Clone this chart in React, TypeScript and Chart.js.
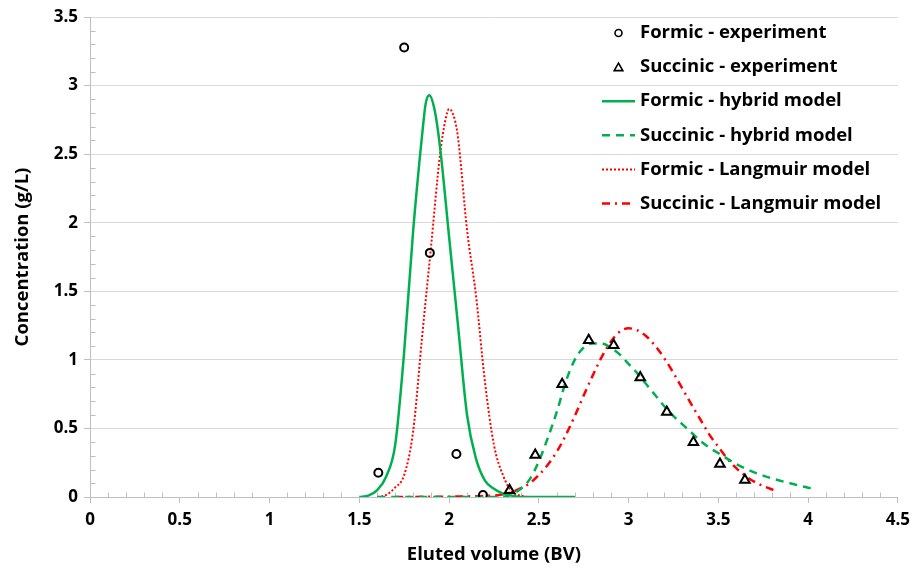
import React, { useEffect, useRef } from "react";
import { Chart, registerables } from "chart.js";
Chart.register(...registerables);

// ---- data ----
const formicExpX = [1.606, 1.75, 1.893, 2.041, 2.189];
const formicExpY = [0.177, 3.277, 1.78, 0.313, 0.015];

const succinicExpX = [2.337, 2.48, 2.63, 2.778, 2.917, 3.065, 3.213, 3.361, 3.509, 3.648];
const succinicExpY = [0.05, 0.306, 0.822, 1.143, 1.106, 0.871, 0.62, 0.4, 0.24, 0.124];

const formicHybridX = [1.5, 1.55, 1.6, 1.65, 1.7, 1.75, 1.8, 1.85, 1.87, 1.89, 1.92, 1.95, 2.0, 2.05, 2.1, 2.15, 2.2, 2.25, 2.3, 2.35, 2.4, 2.55, 2.7];
const formicHybridY = [0, 0.01, 0.05, 0.15, 0.38, 1.06, 1.94, 2.64, 2.87, 2.93, 2.82, 2.55, 1.9, 1.25, 0.6, 0.28, 0.12, 0.06, 0.025, 0.01, 0, 0, 0];

const succinicHybridX = [1.6, 2.3, 2.35, 2.4, 2.45, 2.5, 2.55, 2.6, 2.65, 2.7, 2.75, 2.8, 2.85, 2.9, 2.95, 3.0, 3.05, 3.1, 3.15, 3.2, 3.25, 3.3, 3.35, 3.4, 3.45, 3.5, 3.6, 3.7, 3.8, 3.9, 4.0, 4.04];
const succinicHybridY = [0, 0, 0.02, 0.06, 0.13, 0.26, 0.43, 0.62, 0.84, 1.0, 1.09, 1.12, 1.12, 1.09, 1.04, 0.97, 0.9, 0.82, 0.74, 0.66, 0.59, 0.53, 0.47, 0.41, 0.36, 0.32, 0.24, 0.18, 0.135, 0.1, 0.068, 0.06];

const formicLangmuirX = [1.6, 1.65, 1.7, 1.75, 1.8, 1.85, 1.9, 1.95, 1.98, 2.0, 2.03, 2.05, 2.1, 2.15, 2.2, 2.25, 2.3, 2.35, 2.4, 2.45, 2.55, 2.7];
const formicLangmuirY = [0, 0.015, 0.07, 0.16, 0.48, 1.17, 1.83, 2.5, 2.75, 2.83, 2.76, 2.62, 1.95, 1.47, 0.84, 0.38, 0.16, 0.04, 0.01, 0, 0, 0];

const succinicLangmuirX = [1.7, 2.25, 2.3, 2.35, 2.4, 2.45, 2.5, 2.55, 2.6, 2.65, 2.7, 2.75, 2.8, 2.85, 2.9, 2.95, 3.0, 3.05, 3.1, 3.15, 3.2, 3.25, 3.3, 3.35, 3.4, 3.45, 3.5, 3.55, 3.6, 3.65, 3.7, 3.75, 3.8, 3.82];
const succinicLangmuirY = [0, 0.01, 0.02, 0.035, 0.065, 0.1, 0.16, 0.235, 0.33, 0.45, 0.59, 0.74, 0.885, 1.02, 1.13, 1.205, 1.23, 1.215, 1.17, 1.1, 1.01, 0.905, 0.79, 0.675, 0.565, 0.455, 0.365, 0.28, 0.21, 0.155, 0.112, 0.08, 0.055, 0.046];

const seriesLabels = [
  "Formic - experiment",
  "Succinic - experiment",
  "Formic - hybrid model",
  "Succinic - hybrid model",
  "Formic - Langmuir model",
  "Succinic - Langmuir model",
];

const xTitle = "Eluted volume (BV)";
const yTitle = "Concentration (g/L)";

const GREEN = "#00B050";
const RED = "#FF0000";
const FONT = "'Open Sans'";

const pts = (xs: number[], ys: number[]) => xs.map((x, i) => ({ x, y: ys[i] }));

const minorTicksPlugin = {
  id: "minorTicks",
  beforeDatasetsDraw(chart: any) {
    const { ctx, scales } = chart;
    const xs = scales.x;
    const ys = scales.y;
    ctx.save();
    ctx.strokeStyle = "#BFBFBF";
    ctx.lineWidth = 1;
    ctx.beginPath();
    const yb = Math.round(ys.getPixelForValue(0)) + 0.5;
    for (let i = 1; i <= 45; i++) {
      if (i % 5 === 0) continue;
      const px = Math.round(xs.getPixelForValue(i / 10)) + 0.5;
      ctx.moveTo(px, yb);
      ctx.lineTo(px, yb - 5);
    }
    const xl = Math.round(xs.getPixelForValue(0)) + 0.5;
    for (let i = 1; i <= 35; i++) {
      if (i % 5 === 0) continue;
      const py = Math.round(ys.getPixelForValue(i / 10)) + 0.5;
      ctx.moveTo(xl, py);
      ctx.lineTo(xl + 5, py);
    }
    ctx.stroke();
    ctx.restore();
  },
};

const legendPlugin = {
  id: "insideLegend",
  afterDraw(chart: any) {
    const { ctx } = chart;
    const ds = chart.data.datasets;
    const lineX0 = 602;
    const lineX1 = 635;
    const textX = 640;
    const rowY0 = 33;
    const rowH = 34.1;
    ctx.save();
    ctx.font = `bold 18.5px ${FONT}`;
    ctx.textBaseline = "middle";
    ctx.textAlign = "left";
    ds.forEach((d: any, i: number) => {
      const cy = rowY0 + i * rowH;
      const cx = (lineX0 + lineX1) / 2;
      if (d.showLine === false) {
        ctx.strokeStyle = "#000";
        ctx.lineWidth = 1.6;
        ctx.beginPath();
        if (d.pointStyle === "triangle") {
          const r = 5;
          for (let k = 0; k < 3; k++) {
            const a = (k * 2 * Math.PI) / 3;
            const px = cx + Math.sin(a) * r;
            const py = cy + 1 - Math.cos(a) * r;
            if (k === 0) ctx.moveTo(px, py);
            else ctx.lineTo(px, py);
          }
          ctx.closePath();
        } else {
          ctx.arc(cx, cy, 3.5, 0, Math.PI * 2);
        }
        ctx.stroke();
      } else {
        ctx.strokeStyle = d.borderColor;
        ctx.lineWidth = d.borderWidth;
        ctx.setLineDash(d.borderDash || []);
        ctx.lineCap = "butt";
        ctx.beginPath();
        ctx.moveTo(lineX0, cy);
        ctx.lineTo(lineX1, cy);
        ctx.stroke();
        ctx.setLineDash([]);
      }
      ctx.fillStyle = "#000";
      ctx.fillText(d.label, textX, cy);
    });
    ctx.restore();
  },
};

export default function App() {
  const ref = useRef<HTMLCanvasElement | null>(null);
  useEffect(() => {
    if (!ref.current) return;
    const lineCommon = {
      showLine: true,
      pointRadius: 0,
      pointHoverRadius: 0,
      fill: false,
      cubicInterpolationMode: "monotone" as const,
      borderWidth: 2.5,
    };
    const chart = new Chart(ref.current, {
      type: "scatter",
      data: {
        datasets: [
          {
            label: seriesLabels[0],
            data: pts(formicExpX, formicExpY),
            showLine: false,
            pointStyle: "circle",
            pointRadius: 4,
            borderColor: "#000",
            backgroundColor: "rgba(255,255,255,0)",
            borderWidth: 2,
          },
          {
            label: seriesLabels[1],
            data: pts(succinicExpX, succinicExpY),
            showLine: false,
            pointStyle: "triangle",
            pointRadius: 5.5,
            borderColor: "#000",
            backgroundColor: "rgba(255,255,255,0)",
            borderWidth: 2,
          },
          {
            ...lineCommon,
            label: seriesLabels[2],
            data: pts(formicHybridX, formicHybridY),
            borderColor: GREEN,
            backgroundColor: GREEN,
            borderWidth: 2.5,
          },
          {
            ...lineCommon,
            label: seriesLabels[3],
            data: pts(succinicHybridX, succinicHybridY),
            borderColor: GREEN,
            backgroundColor: GREEN,
            borderDash: [8, 6],
            borderWidth: 2.5,
          },
          {
            ...lineCommon,
            label: seriesLabels[4],
            data: pts(formicLangmuirX, formicLangmuirY),
            borderColor: RED,
            backgroundColor: RED,
            borderDash: [2, 2],
            borderWidth: 2,
          },
          {
            ...lineCommon,
            label: seriesLabels[5],
            data: pts(succinicLangmuirX, succinicLangmuirY),
            borderColor: RED,
            backgroundColor: RED,
            borderDash: [8, 5, 2, 5],
            borderWidth: 2.5,
          },
        ],
      },
      options: {
        animation: false,
        responsive: false,
        maintainAspectRatio: false,
        layout: { padding: { top: 17, right: 17, left: 0, bottom: 0 } },
        plugins: {
          legend: { display: false },
          tooltip: { enabled: false },
        },
        scales: {
          x: {
            type: "linear",
            min: 0,
            max: 4.5,
            ticks: {
              stepSize: 0.5,
              color: "#000",
              font: { family: FONT, size: 17, weight: "bold" },
              padding: 7,
              maxRotation: 0,
              autoSkip: false,
              callback: (v: any) => String(Number(v)),
            },
            grid: {
              display: true,
              drawOnChartArea: false,
              drawTicks: true,
              tickLength: 6,
              color: "#BFBFBF",
              tickColor: "#BFBFBF",
            },
            border: { display: true, color: "#BFBFBF", width: 1 },
            title: {
              display: true,
              text: xTitle,
              color: "#000",
              font: { family: FONT, size: 18.5, weight: "bold" },
              padding: { top: 4, bottom: 10 },
            },
            afterFit: (s: any) => {
              s.height = 79;
            },
          },
          y: {
            type: "linear",
            min: 0,
            max: 3.5,
            ticks: {
              stepSize: 0.5,
              color: "#000",
              font: { family: FONT, size: 17, weight: "bold" },
              padding: 6,
              callback: (v: any) => String(Number(v)),
            },
            grid: {
              display: true,
              drawTicks: true,
              tickLength: 6,
              color: (c: any) => (c.tick && c.tick.value === 0 ? "rgba(0,0,0,0)" : "#D9D9D9"),
              tickColor: "#BFBFBF",
            },
            border: { display: true, color: "#BFBFBF", width: 1 },
            title: {
              display: true,
              text: yTitle,
              color: "#000",
              font: { family: FONT, size: 18.5, weight: "bold" },
              padding: { top: 12, bottom: 0 },
            },
            afterFit: (s: any) => {
              s.width = 90;
            },
          },
        },
      },
      plugins: [minorTicksPlugin, legendPlugin],
    });
    return () => chart.destroy();
  }, []);
  return (
    <div style={{ position: "fixed", left: 0, top: 0, width: 917, height: 576, background: "#fff" }}>
      <canvas ref={ref} width={917} height={576} style={{ width: 917, height: 576, display: "block" }} />
    </div>
  );
}
